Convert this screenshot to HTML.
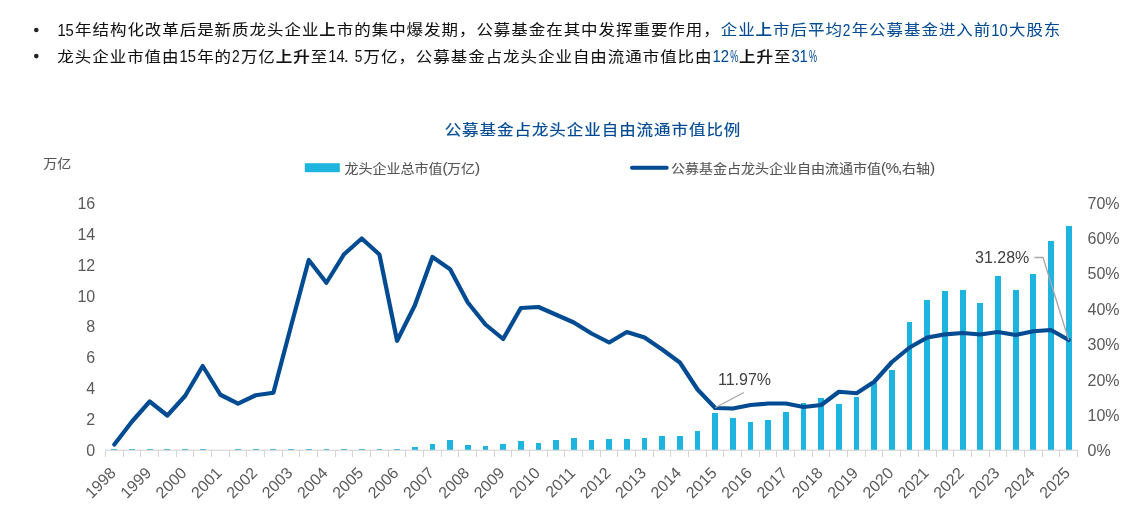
<!DOCTYPE html>
<html lang="zh-CN"><head><meta charset="utf-8"><title>公募基金占龙头企业自由流通市值比例</title>
<style>html,body{margin:0;padding:0;background:#fff}body{width:1144px;height:517px;overflow:hidden}svg{display:block}text{font-family:"Liberation Sans", "Noto Sans CJK SC", sans-serif}.bl tspan{stroke-width:.04px}</style></head><body>
<svg width="1144" height="517" viewBox="0 0 1144 517">
<rect width="1144" height="517" fill="#fff"/>
<g>
<circle cx="36.3" cy="30.0" r="2.3" fill="#222"/>
<circle cx="36.3" cy="56.1" r="2.3" fill="#222"/>
<text transform="translate(0,35.30) scale(1,0.920)" font-size="16.50" class="bl"><tspan x="57.40" y="1.00" fill="#111" stroke="#111" font-size="18.2" textLength="16.47" lengthAdjust="spacingAndGlyphs">15</tspan><tspan x="75.04 92.49 109.94 127.39 144.84 162.29 179.74 197.19 214.64 232.09 249.54 266.99 284.44 301.89" y="0" fill="#111" stroke="#111">年结构化改革后是新质龙头企业</tspan><tspan x="319.34" y="0" fill="#111" stroke="#111" style="stroke-width:.18px" font-weight="500">上</tspan><tspan x="336.79 354.24 371.69 389.14 406.59 424.04 441.49 458.94 476.39 493.84 511.29 528.74 546.19 563.64 581.09 598.54 616.00 633.45 650.90 668.35 685.80 703.25" y="0" fill="#111" stroke="#111">市的集中爆发期，公募基金在其中发挥重要作用，</tspan><tspan x="720.70 738.15" y="0" fill="#004a94" stroke="#004a94">企业</tspan><tspan x="755.60" y="0" fill="#004a94" stroke="#004a94" style="stroke-width:.18px" font-weight="500">上</tspan><tspan x="773.05 790.50 807.95 825.40" y="0" fill="#004a94" stroke="#004a94">市后平均</tspan><tspan x="842.87" y="1.00" fill="#004a94" stroke="#004a94" font-size="18.2" textLength="7.63" lengthAdjust="spacingAndGlyphs">2</tspan><tspan x="851.68 869.13 886.58 904.03 921.48 938.93 956.38 973.83" y="0" fill="#004a94" stroke="#004a94">年公募基金进入前</tspan><tspan x="991.31" y="1.00" fill="#004a94" stroke="#004a94" font-size="18.2" textLength="16.47" lengthAdjust="spacingAndGlyphs">10</tspan><tspan x="1008.95 1026.40 1043.85" y="0" fill="#004a94" stroke="#004a94">大股东</tspan></text>
<text transform="translate(0,61.50) scale(1,0.920)" font-size="16.50" class="bl"><tspan x="57.38 74.82 92.27 109.72 127.17 144.62 162.07" y="0" fill="#111" stroke="#111">龙头企业市值由</tspan><tspan x="179.55" y="1.00" fill="#111" stroke="#111" font-size="18.2" textLength="16.47" lengthAdjust="spacingAndGlyphs">15</tspan><tspan x="197.19 214.64" y="0" fill="#111" stroke="#111">年的</tspan><tspan x="232.12" y="1.00" fill="#111" stroke="#111" font-size="18.2" textLength="7.63" lengthAdjust="spacingAndGlyphs">2</tspan><tspan x="240.93 258.38" y="0" fill="#111" stroke="#111">万亿</tspan><tspan x="275.83 293.28" y="0" fill="#111" stroke="#111" style="stroke-width:.18px" font-weight="500">上升</tspan><tspan x="310.73" y="0" fill="#111" stroke="#111">至</tspan><tspan x="328.20" y="1.00" fill="#111" stroke="#111" font-size="18.2" textLength="16.47" lengthAdjust="spacingAndGlyphs">14</tspan><tspan x="343.77" y="1.00" fill="#111" stroke="#111" font-size="18.2">.</tspan><tspan x="354.71" y="1.00" fill="#111" stroke="#111" font-size="18.2" textLength="7.63" lengthAdjust="spacingAndGlyphs">5</tspan><tspan x="363.52 380.97 398.42 415.87 433.32 450.77 468.22 485.67 503.12 520.57 538.02 555.47 572.92 590.37 607.82 625.27 642.72 660.17 677.62 695.07" y="0" fill="#111" stroke="#111">万亿，公募基金占龙头企业自由流通市值比由</tspan><tspan x="712.55" y="1.00" fill="#004a94" stroke="#004a94" font-size="18.2" textLength="16.47" lengthAdjust="spacingAndGlyphs">12</tspan><tspan x="730.22" y="1.00" fill="#004a94" stroke="#004a94" font-size="18.2" textLength="8.03" lengthAdjust="spacingAndGlyphs">%</tspan><tspan x="739.03 756.48" y="0" fill="#111" stroke="#111" style="stroke-width:.18px" font-weight="500">上升</tspan><tspan x="773.93" y="0" fill="#111" stroke="#111">至</tspan><tspan x="791.40" y="1.00" fill="#004a94" stroke="#004a94" font-size="18.2" textLength="16.47" lengthAdjust="spacingAndGlyphs">31</tspan><tspan x="809.07" y="1.00" fill="#004a94" stroke="#004a94" font-size="18.2" textLength="8.03" lengthAdjust="spacingAndGlyphs">%</tspan></text>
</g>
<text transform="translate(0,135.20) scale(1,0.920)" font-size="16.5" fill="#004a94" stroke="#004a94" stroke-width=".2" x="444.65 462.10 479.55 497.00 514.45 531.90 549.35 566.80 584.25 601.70 619.15 636.60 654.05 671.50 688.95 706.40 723.85">公募基金占龙头企业自由流通市值比例</text>
<text transform="translate(0,168.10) scale(1,0.920)" font-size="14.00" fill="#555" stroke="#555" stroke-width=".1"><tspan x="43.20 57.20">万亿</tspan></text>
<rect x="304.8" y="163.2" width="35" height="9" fill="#1eb4e0"/>
<text transform="translate(0,172.90) scale(1,0.920)" font-size="14.00" fill="#555" stroke="#555" stroke-width=".1"><tspan x="344.40 358.40 372.40 386.40 400.40 414.40 428.40">龙头企业总市值</tspan><tspan x="442.40" font-size="15.22">(</tspan><tspan x="447.06 461.06">万亿</tspan><tspan x="475.06" font-size="15.22">)</tspan></text>
<line x1="632" y1="167.8" x2="666.7" y2="167.8" stroke="#004b92" stroke-width="4" stroke-linecap="round"/>
<text transform="translate(0,172.90) scale(1,0.920)" font-size="14.00" fill="#555" stroke="#555" stroke-width=".1"><tspan x="670.90 684.90 698.90 712.90 726.90 740.90 754.90 768.90 782.90 796.90 810.90 824.90 838.90 852.90 866.90">公募基金占龙头企业自由流通市值</tspan><tspan x="880.90 885.56 898.01" font-size="15.22">(%,</tspan><tspan x="901.90 915.90">右轴</tspan><tspan x="929.90" font-size="15.22">)</tspan></text>
<text x="95.2" y="209" font-size="16" fill="#595959" text-anchor="end">16</text>
<text x="95.2" y="240" font-size="16" fill="#595959" text-anchor="end">14</text>
<text x="95.2" y="271" font-size="16" fill="#595959" text-anchor="end">12</text>
<text x="95.2" y="302" font-size="16" fill="#595959" text-anchor="end">10</text>
<text x="95.2" y="332" font-size="16" fill="#595959" text-anchor="end">8</text>
<text x="95.2" y="363" font-size="16" fill="#595959" text-anchor="end">6</text>
<text x="95.2" y="394" font-size="16" fill="#595959" text-anchor="end">4</text>
<text x="95.2" y="425" font-size="16" fill="#595959" text-anchor="end">2</text>
<text x="95.2" y="456" font-size="16" fill="#595959" text-anchor="end">0</text>
<text x="1087.5" y="209" font-size="16" fill="#595959">70%</text>
<text x="1087.5" y="244" font-size="16" fill="#595959">60%</text>
<text x="1087.5" y="279" font-size="16" fill="#595959">50%</text>
<text x="1087.5" y="315" font-size="16" fill="#595959">40%</text>
<text x="1087.5" y="350" font-size="16" fill="#595959">30%</text>
<text x="1087.5" y="386" font-size="16" fill="#595959">20%</text>
<text x="1087.5" y="421" font-size="16" fill="#595959">10%</text>
<text x="1087.5" y="456" font-size="16" fill="#595959">0%</text>
<g fill="#1eb4e0" shape-rendering="crispEdges">
<rect x="111" y="449" width="6" height="1"/>
<rect x="129" y="449" width="6" height="1"/>
<rect x="147" y="449" width="6" height="1"/>
<rect x="164" y="449" width="6" height="1"/>
<rect x="182" y="449" width="6" height="1"/>
<rect x="200" y="449" width="6" height="1"/>
<rect x="235" y="449" width="6" height="1"/>
<rect x="253" y="449" width="6" height="1"/>
<rect x="270" y="449" width="6" height="1"/>
<rect x="288" y="449" width="6" height="1"/>
<rect x="306" y="449" width="6" height="1"/>
<rect x="324" y="449" width="5" height="1"/>
<rect x="341" y="449" width="6" height="1"/>
<rect x="359" y="449" width="6" height="1"/>
<rect x="377" y="449" width="5" height="1"/>
<rect x="394" y="449" width="6" height="1"/>
<rect x="412" y="447" width="6" height="3"/>
<rect x="430" y="444" width="5" height="6"/>
<rect x="447" y="440" width="6" height="10"/>
<rect x="465" y="445" width="6" height="5"/>
<rect x="483" y="446" width="5" height="4"/>
<rect x="500" y="444" width="6" height="6"/>
<rect x="518" y="441" width="6" height="9"/>
<rect x="536" y="443" width="5" height="7"/>
<rect x="553" y="440" width="6" height="10"/>
<rect x="571" y="438" width="6" height="12"/>
<rect x="589" y="440" width="5" height="10"/>
<rect x="606" y="439" width="6" height="11"/>
<rect x="624" y="439" width="6" height="11"/>
<rect x="642" y="438" width="5" height="12"/>
<rect x="659" y="436" width="6" height="14"/>
<rect x="677" y="436" width="6" height="14"/>
<rect x="695" y="431" width="5" height="19"/>
<rect x="712" y="413" width="6" height="37"/>
<rect x="730" y="418" width="6" height="32"/>
<rect x="748" y="422" width="5" height="28"/>
<rect x="765" y="420" width="6" height="30"/>
<rect x="783" y="412" width="6" height="38"/>
<rect x="801" y="403" width="5" height="47"/>
<rect x="818" y="398" width="6" height="52"/>
<rect x="836" y="404" width="6" height="46"/>
<rect x="854" y="397" width="5" height="53"/>
<rect x="871" y="383" width="6" height="67"/>
<rect x="889" y="370" width="6" height="80"/>
<rect x="907" y="322" width="5" height="128"/>
<rect x="924" y="300" width="6" height="150"/>
<rect x="942" y="291" width="6" height="159"/>
<rect x="960" y="290" width="6" height="160"/>
<rect x="977" y="303" width="6" height="147"/>
<rect x="995" y="276" width="6" height="174"/>
<rect x="1013" y="290" width="6" height="160"/>
<rect x="1030" y="274" width="6" height="176"/>
<rect x="1048" y="241" width="6" height="209"/>
<rect x="1066" y="226" width="6" height="224"/>
</g>
<g fill="#d4d4d4">
<rect x="105" y="449.7" width="973" height="1.1"/>
<rect x="105" y="450" width="1" height="7"/>
<rect x="123" y="450" width="1" height="7"/>
<rect x="140" y="450" width="1" height="7"/>
<rect x="158" y="450" width="1" height="7"/>
<rect x="176" y="450" width="1" height="7"/>
<rect x="193" y="450" width="1" height="7"/>
<rect x="211" y="450" width="1" height="7"/>
<rect x="229" y="450" width="1" height="7"/>
<rect x="246" y="450" width="1" height="7"/>
<rect x="264" y="450" width="1" height="7"/>
<rect x="282" y="450" width="1" height="7"/>
<rect x="299" y="450" width="1" height="7"/>
<rect x="317" y="450" width="1" height="7"/>
<rect x="335" y="450" width="1" height="7"/>
<rect x="352" y="450" width="1" height="7"/>
<rect x="370" y="450" width="1" height="7"/>
<rect x="388" y="450" width="1" height="7"/>
<rect x="405" y="450" width="1" height="7"/>
<rect x="423" y="450" width="1" height="7"/>
<rect x="441" y="450" width="1" height="7"/>
<rect x="458" y="450" width="1" height="7"/>
<rect x="476" y="450" width="1" height="7"/>
<rect x="494" y="450" width="1" height="7"/>
<rect x="511" y="450" width="1" height="7"/>
<rect x="529" y="450" width="1" height="7"/>
<rect x="547" y="450" width="1" height="7"/>
<rect x="564" y="450" width="1" height="7"/>
<rect x="582" y="450" width="1" height="7"/>
<rect x="600" y="450" width="1" height="7"/>
<rect x="617" y="450" width="1" height="7"/>
<rect x="635" y="450" width="1" height="7"/>
<rect x="653" y="450" width="1" height="7"/>
<rect x="670" y="450" width="1" height="7"/>
<rect x="688" y="450" width="1" height="7"/>
<rect x="706" y="450" width="1" height="7"/>
<rect x="723" y="450" width="1" height="7"/>
<rect x="741" y="450" width="1" height="7"/>
<rect x="759" y="450" width="1" height="7"/>
<rect x="776" y="450" width="1" height="7"/>
<rect x="794" y="450" width="1" height="7"/>
<rect x="812" y="450" width="1" height="7"/>
<rect x="829" y="450" width="1" height="7"/>
<rect x="847" y="450" width="1" height="7"/>
<rect x="865" y="450" width="1" height="7"/>
<rect x="882" y="450" width="1" height="7"/>
<rect x="900" y="450" width="1" height="7"/>
<rect x="918" y="450" width="1" height="7"/>
<rect x="936" y="450" width="1" height="7"/>
<rect x="953" y="450" width="1" height="7"/>
<rect x="971" y="450" width="1" height="7"/>
<rect x="989" y="450" width="1" height="7"/>
<rect x="1006" y="450" width="1" height="7"/>
<rect x="1024" y="450" width="1" height="7"/>
<rect x="1042" y="450" width="1" height="7"/>
<rect x="1059" y="450" width="1" height="7"/>
<rect x="1077" y="450" width="1" height="7"/>
</g>
<text transform="translate(116.84,474.00) rotate(-45)" font-size="16" fill="#595959" text-anchor="end">1998</text>
<text transform="translate(152.18,474.00) rotate(-45)" font-size="16" fill="#595959" text-anchor="end">1999</text>
<text transform="translate(187.53,474.00) rotate(-45)" font-size="16" fill="#595959" text-anchor="end">2000</text>
<text transform="translate(222.87,474.00) rotate(-45)" font-size="16" fill="#595959" text-anchor="end">2001</text>
<text transform="translate(258.22,474.00) rotate(-45)" font-size="16" fill="#595959" text-anchor="end">2002</text>
<text transform="translate(293.56,474.00) rotate(-45)" font-size="16" fill="#595959" text-anchor="end">2003</text>
<text transform="translate(328.91,474.00) rotate(-45)" font-size="16" fill="#595959" text-anchor="end">2004</text>
<text transform="translate(364.25,474.00) rotate(-45)" font-size="16" fill="#595959" text-anchor="end">2005</text>
<text transform="translate(399.60,474.00) rotate(-45)" font-size="16" fill="#595959" text-anchor="end">2006</text>
<text transform="translate(434.95,474.00) rotate(-45)" font-size="16" fill="#595959" text-anchor="end">2007</text>
<text transform="translate(470.29,474.00) rotate(-45)" font-size="16" fill="#595959" text-anchor="end">2008</text>
<text transform="translate(505.64,474.00) rotate(-45)" font-size="16" fill="#595959" text-anchor="end">2009</text>
<text transform="translate(540.98,474.00) rotate(-45)" font-size="16" fill="#595959" text-anchor="end">2010</text>
<text transform="translate(576.33,474.00) rotate(-45)" font-size="16" fill="#595959" text-anchor="end">2011</text>
<text transform="translate(611.67,474.00) rotate(-45)" font-size="16" fill="#595959" text-anchor="end">2012</text>
<text transform="translate(647.02,474.00) rotate(-45)" font-size="16" fill="#595959" text-anchor="end">2013</text>
<text transform="translate(682.36,474.00) rotate(-45)" font-size="16" fill="#595959" text-anchor="end">2014</text>
<text transform="translate(717.71,474.00) rotate(-45)" font-size="16" fill="#595959" text-anchor="end">2015</text>
<text transform="translate(753.05,474.00) rotate(-45)" font-size="16" fill="#595959" text-anchor="end">2016</text>
<text transform="translate(788.40,474.00) rotate(-45)" font-size="16" fill="#595959" text-anchor="end">2017</text>
<text transform="translate(823.75,474.00) rotate(-45)" font-size="16" fill="#595959" text-anchor="end">2018</text>
<text transform="translate(859.09,474.00) rotate(-45)" font-size="16" fill="#595959" text-anchor="end">2019</text>
<text transform="translate(894.44,474.00) rotate(-45)" font-size="16" fill="#595959" text-anchor="end">2020</text>
<text transform="translate(929.78,474.00) rotate(-45)" font-size="16" fill="#595959" text-anchor="end">2021</text>
<text transform="translate(965.13,474.00) rotate(-45)" font-size="16" fill="#595959" text-anchor="end">2022</text>
<text transform="translate(1000.47,474.00) rotate(-45)" font-size="16" fill="#595959" text-anchor="end">2023</text>
<text transform="translate(1035.82,474.00) rotate(-45)" font-size="16" fill="#595959" text-anchor="end">2024</text>
<text transform="translate(1071.16,474.00) rotate(-45)" font-size="16" fill="#595959" text-anchor="end">2025</text>
<polyline points="114.34,444.50 132.01,421.50 149.68,401.50 167.35,415.50 185.03,396.00 202.70,366.00 220.37,394.75 238.05,403.60 255.72,395.25 273.39,392.75 291.06,326.00 308.74,260.00 326.41,282.75 344.08,254.20 361.75,238.50 379.43,254.50 397.10,340.75 414.77,305.50 432.45,257.00 450.12,269.25 467.79,302.50 485.46,324.50 503.14,339.00 520.81,308.00 538.48,307.00 556.15,314.75 573.83,322.50 591.50,333.50 609.17,342.50 626.85,332.00 644.52,337.50 662.19,349.50 679.86,362.50 697.54,389.50 715.21,408.00 732.88,408.50 750.55,405.00 768.23,403.50 785.90,403.50 803.57,407.00 821.25,405.00 838.92,391.75 856.59,393.25 874.26,381.75 891.94,362.00 909.61,347.50 927.28,337.50 944.95,334.40 962.63,333.00 980.30,334.50 997.97,332.00 1015.65,335.00 1033.32,331.25 1050.99,330.00 1068.66,340.00" fill="none" stroke="#004b92" stroke-width="4.2" stroke-linejoin="round" stroke-linecap="round"/>
<g stroke="#a6a6a6" stroke-width="1.3" fill="none">
<polyline points="715.2,407.8 743.8,392.5"/>
<polyline points="1034.3,257.5 1043,257.5 1068.7,340"/>
</g>
<text x="718" y="385.2" font-size="16" fill="#404040">11.97%</text>
<text x="975" y="263" font-size="16" fill="#404040">31.28%</text>
</svg></body></html>
